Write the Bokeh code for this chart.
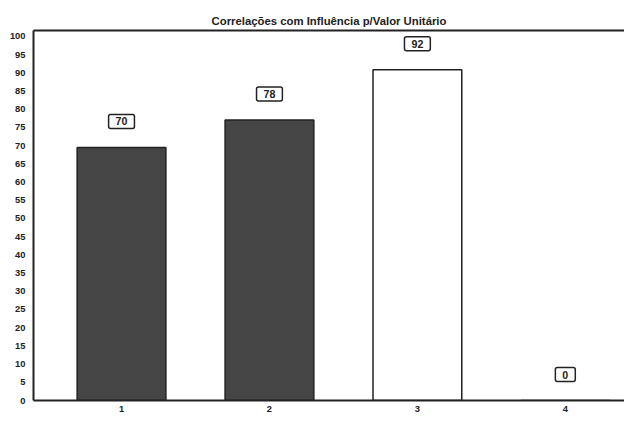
from bokeh.plotting import figure
from bokeh.models import ColumnDataSource, FixedTicker, LinearAxis, Range1d
from bokeh.core.properties import value
from bokeh.embed import file_html
from bokeh.resources import INLINE

title_text = "Correlações com Influência p/Valor Unitário"
positions = [1, 2, 3, 4]
x_labels = ["1", "2", "3", "4"]
values = [70, 78, 92, 0]
drawn = [69.5, 77, 90.8, 0]
fills = ["#454545", "#454545", "#ffffff", "#ffffff"]
y_ticks = list(range(0, 101, 5))

FONT = "Liberation Sans"

p = figure(width=624, height=416, output_backend="svg", toolbar_location=None,
           x_range=Range1d(0.405, 4.4), y_range=Range1d(0, 101.6),
           min_border_left=33, min_border_right=0, min_border_top=30,
           min_border_bottom=16, outline_line_color=None)

p.title.text = title_text
p.title.align = "center"
p.title.text_font = FONT
p.title.text_font_size = "8.5pt"
p.title.text_font_style = "bold"
p.title.text_color = "#222222"
p.title.offset = 0
p.title.standoff = 8

src = ColumnDataSource(dict(x=positions, top=drawn, val=[str(v) for v in values],
                            fill=fills))

p.vbar(x="x", top="top", bottom=0, width=0.6, source=src, fill_color="fill",
       line_color="#222222", line_width=1.5)

p.text(x="x", y="top", text="val", source=src, y_offset=-26,
       text_align="center", text_baseline="middle",
       text_font=value(FONT), text_font_size="8pt", text_font_style="bold",
       text_color="#222222", background_fill_color="white",
       border_line_color="#222222", border_line_width=1.5,
       padding=dict(left=7, right=7, top=3, bottom=3),
       border_radius=2)

p.xgrid.visible = False
p.ygrid.visible = False

for ax in (p.xaxis[0], p.yaxis[0]):
    ax.axis_line_color = "#222222"
    ax.axis_line_width = 2
    ax.major_tick_line_color = None
    ax.minor_tick_line_color = None
    ax.major_tick_out = 0
    ax.major_tick_in = 0
    ax.minor_tick_out = 0
    ax.major_label_text_font = FONT
    ax.major_label_text_font_style = "bold"
    ax.major_label_text_color = "#222222"
    ax.major_label_text_font_size = "7pt"

p.xaxis.ticker = FixedTicker(ticks=positions)
p.xaxis.major_label_overrides = {pos: lab for pos, lab in zip(positions, x_labels)}
p.xaxis.major_label_standoff = 5
p.yaxis.ticker = FixedTicker(ticks=y_ticks)
p.yaxis.major_label_standoff = 8

top_axis = LinearAxis(ticker=FixedTicker(ticks=[]), axis_line_color="#222222",
                      axis_line_width=2, major_tick_line_color=None,
                      minor_tick_line_color=None, major_tick_out=0,
                      major_tick_in=0, minor_tick_out=0, major_label_standoff=0)
p.add_layout(top_axis, "above")

open("out.html", "w").write(file_html(p, INLINE))
